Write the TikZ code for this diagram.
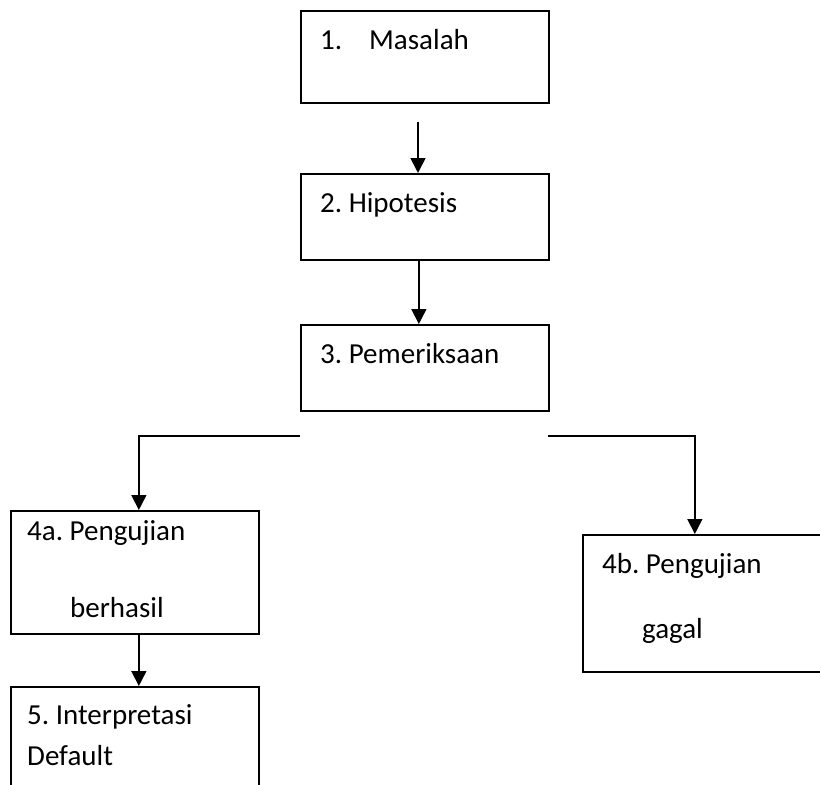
\documentclass[tikz,border=0pt]{standalone}
\usepackage{fontspec}
\setmainfont{Carlito}
\usetikzlibrary{positioning,arrows.meta}
\frenchspacing

\tikzset{
  box/.style={draw, line width=1.7pt, minimum width=248pt, anchor=north west, inner sep=0pt},
  lbl/.style={anchor=base west, inner sep=0pt, font=\fontsize{29}{35}\selectfont},
  flow/.style={line width=1.7pt, -{Triangle[length=15pt,width=15pt]}}
}

\begin{document}
\begin{tikzpicture}[x=1pt, y=-1pt]
	\useasboundingbox (0,0) rectangle (820,785);
	% boxes
	\node [box, minimum height=92pt] (b1) at (300,10) {};
	\node [box, minimum height=86pt] (b2) at (300,173) {};
	\node [box, minimum height=86pt] (b3) at (300,324) {};
	\node [box, minimum height=123pt] (b4a) at (10,510) {};
	\node [box, minimum height=137pt] (b4b) at (582,534) {};
	\node [box, minimum height=130pt] (b5) at (10,686) {};
	% texts
	\node [lbl] (t1a) at (320,49) {1.};
	\node [lbl] (t1b) at (369,49) {Masalah};
	\node [lbl] (t2) at (320,212) {2. Hipotesis};
	\node [lbl] (t3) at (320,363) {3. Pemeriksaan};
	\node [lbl] (t4a) at (27,540) {4a. Pengujian};
	\node [lbl] (t4aa) at (70,617) {berhasil};
	\node [lbl] (t4b) at (602,573) {4b. Pengujian};
	\node [lbl] (t4bb) at (642,638) {gagal};
	\node [lbl] (t5) at (27,724) {5. Interpretasi};
	\node [lbl] (t5b) at (27,765) {Default};
	% connectors
	\coordinate (s1) at (418,122);
	\coordinate (splitL) at (300,436);
	\coordinate (splitR) at (548,436);
	\draw [flow] (s1) -- (s1 |- b2.north);
	\draw [flow] ([xshift=-6pt]b2.south) -- ([xshift=-6pt]b3.north);
	\draw [flow] (splitL) -| ([xshift=4pt]b4a.north);
	\draw [flow] (splitR) -| ([xshift=-12pt]b4b.north);
	\draw [flow] ([xshift=4pt]b4a.south) -- ([xshift=4pt]b5.north);
\end{tikzpicture}
\end{document}
